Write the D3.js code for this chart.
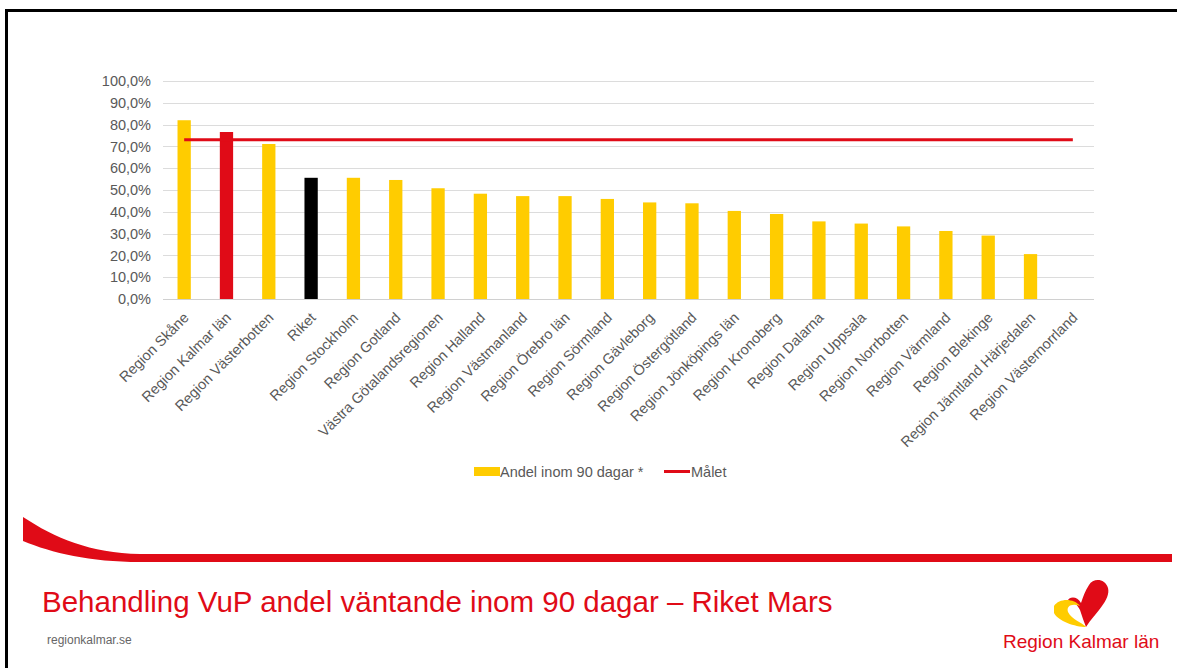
<!DOCTYPE html>
<html>
<head>
<meta charset="utf-8">
<script src="https://cdn.jsdelivr.net/npm/d3@7"></script>
<style>
  html, body { margin: 0; padding: 0; background: #fff; }
  svg { display: block; font-family: "Liberation Sans", Arial, sans-serif; }
</style>
</head>
<body>
<svg id="chart" width="1177" height="668"></svg>
<script>
// data
const categories = [
  'Region Skåne', 'Region Kalmar län', 'Region Västerbotten', 'Riket',
  'Region Stockholm', 'Region Gotland', 'Västra Götalandsregionen', 'Region Halland',
  'Region Västmanland', 'Region Örebro län', 'Region Sörmland', 'Region Gävleborg',
  'Region Östergötland', 'Region Jönköpings län', 'Region Kronoberg', 'Region Dalarna',
  'Region Uppsala', 'Region Norrbotten', 'Region Värmland', 'Region Blekinge',
  'Region Jämtland Härjedalen', 'Region Västernorrland'
];
const andel = [82.0, 76.6, 71.1, 55.6, 55.6, 54.6, 50.8, 48.3, 47.2, 47.2, 45.9,
  44.3, 43.9, 40.4, 39.0, 35.6, 34.6, 33.3, 31.2, 29.1, 20.6, null];
const malet = 73;
const yTicks = [0, 10, 20, 30, 40, 50, 60, 70, 80, 90, 100];
const seriesNames = ['Andel inom 90 dagar *', 'Målet'];

const yellow = '#ffcc00', red = '#e00b17', grey = '#595959';

const svg = d3.select('#chart');

// slide frame
svg.append('path')
  .attr('d', 'M6.5,668 V10.5 H1177')
  .attr('fill', 'none')
  .attr('stroke', '#000')
  .attr('stroke-width', 3);

// plot area
const plotLeft = 163, plotRight = 1094, plotTop = 81, plotBottom = 299;

const x = d3.scaleBand()
  .domain(categories)
  .range([plotLeft, plotRight])
  .paddingInner(0.686)
  .paddingOuter(0.343);

const y = d3.scaleLinear()
  .domain([0, 100])
  .range([plotBottom, plotTop]);

// gridlines
svg.append('g')
  .selectAll('line')
  .data(yTicks)
  .join('line')
  .attr('x1', plotLeft)
  .attr('x2', plotRight)
  .attr('y1', d => Math.round(y(d)) + 0.5)
  .attr('y2', d => Math.round(y(d)) + 0.5)
  .attr('stroke', d => d === 0 ? '#d0d0d0' : '#dcdcdc')
  .attr('stroke-width', 1);

// y axis labels
const yAxis = svg.append('g')
  .attr('transform', `translate(${plotLeft}, 0)`)
  .call(d3.axisLeft(y).tickValues(yTicks).tickSize(0).tickPadding(12)
    .tickFormat(d => d3.format('.1f')(d).replace('.', ',') + '%'));
yAxis.select('.domain').remove();
yAxis.selectAll('text')
  .attr('fill', grey)
  .style('font-size', '14.5px')
  .style('font-family', '"Liberation Sans", Arial, sans-serif');

// bars
const barColor = name => name === 'Region Kalmar län' ? red : (name === 'Riket' ? '#000' : yellow);

svg.append('g')
  .selectAll('rect')
  .data(categories.map((c, i) => ({ c, v: andel[i] })).filter(d => d.v != null))
  .join('rect')
  .attr('x', d => x(d.c))
  .attr('y', d => y(d.v))
  .attr('width', x.bandwidth())
  .attr('height', d => y(0) - y(d.v))
  .attr('fill', d => barColor(d.c));

// target line
const line = d3.line()
  .x(d => x(d) + x.bandwidth() / 2)
  .y(() => y(malet));

svg.append('path')
  .datum([categories[0], categories[categories.length - 1]])
  .attr('d', line)
  .attr('fill', 'none')
  .attr('stroke', red)
  .attr('stroke-width', 3);

// category labels
svg.append('g')
  .selectAll('text')
  .data(categories)
  .join('text')
  .attr('transform', d => `translate(${x(d) + x.bandwidth() / 2 + 2}, ${plotBottom + 16}) rotate(-45)`)
  .attr('text-anchor', 'end')
  .attr('dy', '0.35em')
  .attr('fill', grey)
  .style('font-size', '14.5px')
  .text(d => d);

// legend
const legend = svg.append('g');
legend.append('rect')
  .attr('x', 474).attr('y', 467)
  .attr('width', 26).attr('height', 9)
  .attr('fill', yellow);
legend.append('text')
  .attr('x', 500).attr('y', 476.5)
  .attr('fill', grey)
  .style('font-size', '14.5px')
  .text(seriesNames[0]);
legend.append('line')
  .attr('x1', 664).attr('x2', 690)
  .attr('y1', 471.5).attr('y2', 471.5)
  .attr('stroke', red)
  .attr('stroke-width', 3);
legend.append('text')
  .attr('x', 691).attr('y', 476.5)
  .attr('fill', grey)
  .style('font-size', '14.5px')
  .text(seriesNames[1]);

// red swoosh
svg.append('path')
  .attr('d', 'M23,517 C55,538 90,553 140,554 L1172,554 L1172,562 L140,562 C90,562 52,553 23,541 Z')
  .attr('fill', red);

// title and footer
svg.append('text')
  .attr('x', 42).attr('y', 612)
  .attr('fill', red)
  .style('font-size', '29.5px')
  .text('Behandling VuP andel väntande inom 90 dagar – Riket Mars');

svg.append('text')
  .attr('x', 47).attr('y', 644)
  .attr('fill', '#666')
  .style('font-size', '12px')
  .text('regionkalmar.se');

// logo
const logo = svg.append('g');
logo.append('path')
  .attr('d', 'M1086,627 C1095,613 1111,600 1108,588 C1105,578 1093,578 1089,585 C1085,591 1083,597 1081,603 C1077,596 1069,596 1067,602 C1071,600 1077,603 1080,610 C1082,616 1084,622 1086,627 Z')
  .attr('fill', red);
logo.append('path')
  .attr('d', 'M1054,606 C1059,598 1074,598 1080,606 C1072,603 1066,606 1068,612 C1072,620 1082,622 1086,627 C1075,627 1058,621 1054,613 Z')
  .attr('fill', yellow);
logo.append('text')
  .attr('x', 1003).attr('y', 648)
  .attr('fill', red)
  .style('font-size', '19px')
  .text('Region Kalmar län');
</script>
</body>
</html>
